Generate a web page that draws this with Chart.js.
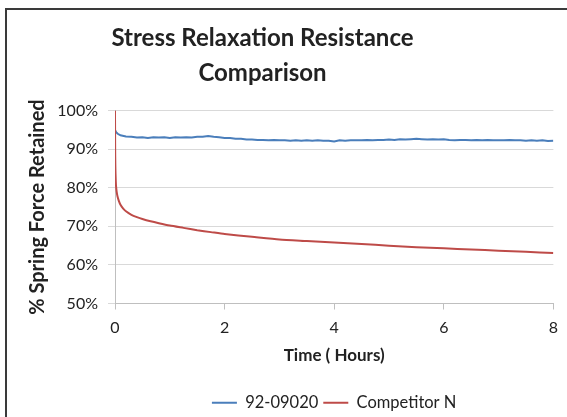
<!DOCTYPE html>
<html>
<head>
<meta charset="utf-8">
<script src="https://cdn.jsdelivr.net/npm/chart.js@4.4.1/dist/chart.umd.min.js"></script>
<style>
    html, body { margin: 0; padding: 0; background: #fff; }
    #wrap { width: 567px; height: 417px; }
</style>
</head>
<body>
<div id="wrap"><canvas id="chartCanvas" width="567" height="417"></canvas></div>
<script>
const TITLE = ['Stress Relaxation Resistance', 'Comparison'];
const SERIES_NAMES = ['92-09020', 'Competitor N'];

// time in hours / % spring force retained
const blueHours = [0, 0.02, 0.05,
    0.1, 0.2, 0.3, 0.4, 0.5, 0.6, 0.7, 0.8, 0.9, 1.0,
    1.1, 1.2, 1.3, 1.4, 1.5, 1.6, 1.7, 1.8, 1.9, 2.0,
    2.1, 2.2, 2.3, 2.4, 2.5, 2.6, 2.7, 2.8, 2.9, 3.0,
    3.1, 3.2, 3.3, 3.4, 3.5, 3.6, 3.7, 3.8, 3.9, 4.0,
    4.1, 4.2, 4.3, 4.4, 4.5, 4.6, 4.7, 4.8, 4.9, 5.0,
    5.1, 5.2, 5.3, 5.4, 5.5, 5.6, 5.7, 5.8, 5.9, 6.0,
    6.1, 6.2, 6.3, 6.4, 6.5, 6.6, 6.7, 6.8, 6.9, 7.0,
    7.1, 7.2, 7.3, 7.4, 7.5, 7.6, 7.7, 7.8, 7.9, 8.0];
const blueValues = [95.0, 94.4, 94.0,
    93.6, 93.3, 93.2, 93.0, 93.1, 92.9, 93.1, 93.0, 93.1, 92.9,
    93.1, 93.0, 93.1, 93.0, 93.2, 93.2, 93.4, 93.2, 93.1, 92.9,
    92.9, 92.7, 92.7, 92.5, 92.5, 92.4, 92.4, 92.3, 92.4, 92.3,
    92.3, 92.2, 92.3, 92.2, 92.3, 92.2, 92.3, 92.2, 92.2, 92.0,
    92.3, 92.2, 92.3, 92.3, 92.3, 92.4, 92.3, 92.4, 92.4, 92.5,
    92.4, 92.6, 92.5, 92.6, 92.7, 92.6, 92.5, 92.6, 92.5, 92.6,
    92.4, 92.3, 92.4, 92.4, 92.3, 92.4, 92.3, 92.4, 92.3, 92.3,
    92.3, 92.4, 92.3, 92.3, 92.2, 92.3, 92.2, 92.3, 92.1, 92.2];

const redHours = [0, 0.003, 0.006, 0.01, 0.015, 0.02, 0.03, 0.045, 0.07, 0.1,
    0.15, 0.2, 0.3, 0.4, 0.5, 0.65, 0.8, 1.0, 1.25, 1.5, 1.75, 2,
    2.5, 3, 3.5, 4, 4.5, 5, 5.5, 6, 6.5, 7, 7.5, 8];
const redValues = [100, 90, 86, 83.5, 81.5, 80.3, 79, 77.8, 76.6, 75.6,
    74.6, 73.9, 73.0, 72.4, 71.9, 71.3, 70.8, 70.2, 69.6, 69.0, 68.5, 68.0,
    67.3, 66.6, 66.2, 65.8, 65.4, 65.0, 64.6, 64.3, 64.0, 63.7, 63.4, 63.1];

const xTicks = [0, 2, 4, 6, 8];
const yTicks = [50, 60, 70, 80, 90, 100];

const COLORS = {
    blue: '#4A7EBB',
    red: '#BE4B48',
    grid: '#D9D9D9',
    axis: '#BFBFBF',
    text: '#222'
};

function toPoints(xs, ys) {
    return xs.map((x, i) => ({ x: x, y: ys[i] }));
}

// outer frame of the picture (only top and left edges are visible)
const framePlugin = {
    id: 'frame',
    beforeDraw(chart) {
        const ctx = chart.ctx;
        ctx.save();
        ctx.fillStyle = '#fff';
        ctx.fillRect(0, 0, chart.width, chart.height);
        ctx.strokeStyle = '#3a3a3a';
        ctx.lineWidth = 2;
        ctx.strokeRect(6, 9, 700, 600);
        ctx.restore();
    }
};

const ctx = document.getElementById('chartCanvas').getContext('2d');
const chart = new Chart(ctx, {
    type: 'line',
    data: {
        datasets: [
            {
                label: SERIES_NAMES[0],
                data: toPoints(blueHours, blueValues),
                borderColor: COLORS.blue,
                backgroundColor: COLORS.blue,
                borderWidth: 2,
                pointRadius: 0,
                tension: 0,
                order: 1
            },
            {
                label: SERIES_NAMES[1],
                data: toPoints(redHours, redValues),
                borderColor: COLORS.red,
                backgroundColor: COLORS.red,
                borderWidth: 2,
                pointRadius: 0,
                tension: 0.2,
                order: 0
            }
        ]
    },
    options: {
        responsive: false,
        animation: false,
        layout: {
            padding: { left: -30, right: 12, top: 10, bottom: -4 }
        },
        plugins: {
            title: {
                display: true,
                text: TITLE,
                color: COLORS.text,
                font: { family: 'Lato', size: 24, weight: 'bold', lineHeight: 1.45 },
                padding: { top: 11, bottom: 20 }
            },
            legend: {
                position: 'bottom',
                fullSize: false,
                labels: {
                    usePointStyle: true,
                    pointStyle: 'line',
                    pointStyleWidth: 25,
                    padding: 5,
                    color: COLORS.text,
                    font: { family: 'Lato', size: 16.5 },
                    sort: (a, b) => a.datasetIndex - b.datasetIndex
                }
            },
            tooltip: { enabled: false }
        },
        scales: {
            x: {
                type: 'linear',
                min: 0,
                max: 8,
                afterBuildTicks: scale => {
                    scale.ticks = xTicks.map(v => ({ value: v }));
                },
                afterFit: scale => { scale.height = 86; },
                border: { color: COLORS.axis, width: 1 },
                grid: {
                    drawOnChartArea: false,
                    drawTicks: true,
                    tickLength: 6,
                    color: COLORS.axis
                },
                ticks: {
                    color: COLORS.text,
                    padding: 9,
                    maxRotation: 0,
                    font: { family: 'Lato', size: 16 }
                },
                title: {
                    display: true,
                    text: 'Time ( Hours)',
                    color: COLORS.text,
                    font: { family: 'Lato', size: 17, weight: 'bold' },
                    padding: { top: 0, bottom: 24 }
                }
            },
            y: {
                min: 50,
                max: 100,
                afterBuildTicks: scale => {
                    scale.ticks = yTicks.map(v => ({ value: v }));
                },
                afterFit: scale => { scale.width = 145; },
                border: { color: COLORS.axis, width: 1 },
                grid: {
                    color: COLORS.grid,
                    lineWidth: 1,
                    drawTicks: true,
                    tickLength: 7
                },
                ticks: {
                    color: COLORS.text,
                    padding: 10,
                    font: { family: 'Lato', size: 16 },
                    callback: v => v + '%'
                },
                title: {
                    display: true,
                    text: '% Spring Force Retained',
                    color: COLORS.text,
                    font: { family: 'Lato', size: 20, weight: 'bold' },
                    padding: { top: 56, bottom: 0 }
                }
            }
        }
    },
    plugins: [framePlugin]
});
</script>
</body>
</html>
